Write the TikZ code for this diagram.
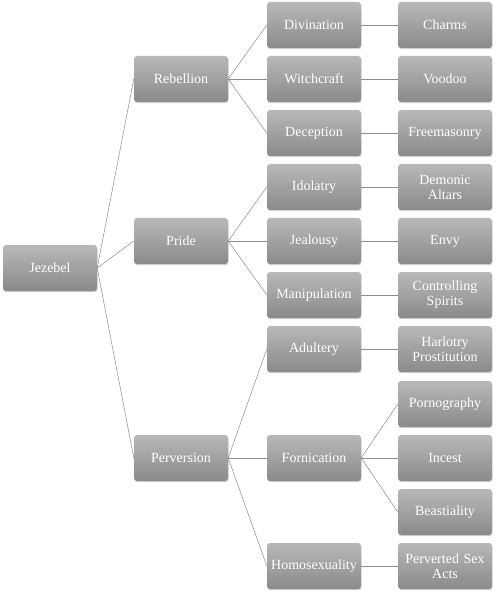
\documentclass[tikz,border=0pt]{standalone}
\usepackage{fontspec}
\setmainfont{Liberation Serif}
\usepackage{xcolor}
\usetikzlibrary{positioning, shadows}
\definecolor{boxtop}{HTML}{B8B8B8}
\definecolor{boxbot}{HTML}{8A8A8A}
\definecolor{linkgray}{HTML}{8C8C8C}
\tikzset{
  box/.style  = {rectangle, rounded corners=3pt, top color=boxtop, bottom color=boxbot,
                 draw=none, text=white, minimum width=94pt, minimum height=46pt,
                 text width=92pt, align=center, inner sep=1pt, font=\fontsize{14}{15}\selectfont,
                 drop shadow={shadow xshift=0.6pt, shadow yshift=-1.2pt, opacity=0.35}},
  link/.style = {draw=linkgray, line width=0.5pt},
}
\begin{document}
\begin{tikzpicture}[x=1pt, y=-1pt]
    \useasboundingbox (0,0) rectangle (495,593);

    %% Root
    \node[box] (jez) at (50, 268) {Jezebel};

    %% Second level
    \node[box] (reb) at (181,  79) {Rebellion};
    \node[box] (pri) at (181, 241) {Pride};
    \node[box] (per) at (181, 458) {Perversion};

    %% Third level
    \node[box] (div) at (314,  25) {Divination};
    \node[box] (wit) at (314,  79) {Witchcraft};
    \node[box] (dec) at (314, 133) {Deception};
    \node[box] (ido) at (314, 187) {Idolatry};
    \node[box] (jea) at (314, 241) {Jealousy};
    \node[box] (man) at (314, 295) {Manipulation};
    \node[box] (adu) at (314, 349) {Adultery};
    \node[box] (for) at (314, 458) {Fornication};
    \node[box] (hom) at (314, 566) {Homosexuality};

    %% Fourth level
    \node[box] (cha) at (445,  25) {Charms};
    \node[box] (voo) at (445,  79) {Voodoo};
    \node[box] (fre) at (445, 133) {Freemasonry};
    \node[box] (alt) at (445, 187) {Demonic\\Altars};
    \node[box] (env) at (445, 241) {Envy};
    \node[box] (con) at (445, 295) {Controlling\\Spirits};
    \node[box] (har) at (445, 349) {Harlotry\\Prostitution};
    \node[box] (por) at (445, 404) {Pornography};
    \node[box] (inc) at (445, 458) {Incest};
    \node[box] (bea) at (445, 512) {Beastiality};
    \node[box] (pse) at (445, 566) {Perverted Sex\\Acts};

    %% Connectors
    \draw[link] (jez.east) -- (reb.west);
    \draw[link] (jez.east) -- (pri.west);
    \draw[link] (jez.east) -- (per.west);

    \draw[link] (reb.east) -- (div.west);
    \draw[link] (reb.east) -- (wit.west);
    \draw[link] (reb.east) -- (dec.west);
    \draw[link] (pri.east) -- (ido.west);
    \draw[link] (pri.east) -- (jea.west);
    \draw[link] (pri.east) -- (man.west);
    \draw[link] (per.east) -- (adu.west);
    \draw[link] (per.east) -- (for.west);
    \draw[link] (per.east) -- (hom.west);

    \draw[link] (div.east) -- (cha.west);
    \draw[link] (wit.east) -- (voo.west);
    \draw[link] (dec.east) -- (fre.west);
    \draw[link] (ido.east) -- (alt.west);
    \draw[link] (jea.east) -- (env.west);
    \draw[link] (man.east) -- (con.west);
    \draw[link] (adu.east) -- (har.west);
    \draw[link] (for.east) -- (por.west);
    \draw[link] (for.east) -- (inc.west);
    \draw[link] (for.east) -- (bea.west);
    \draw[link] (hom.east) -- (pse.west);

\end{tikzpicture}
\end{document}
